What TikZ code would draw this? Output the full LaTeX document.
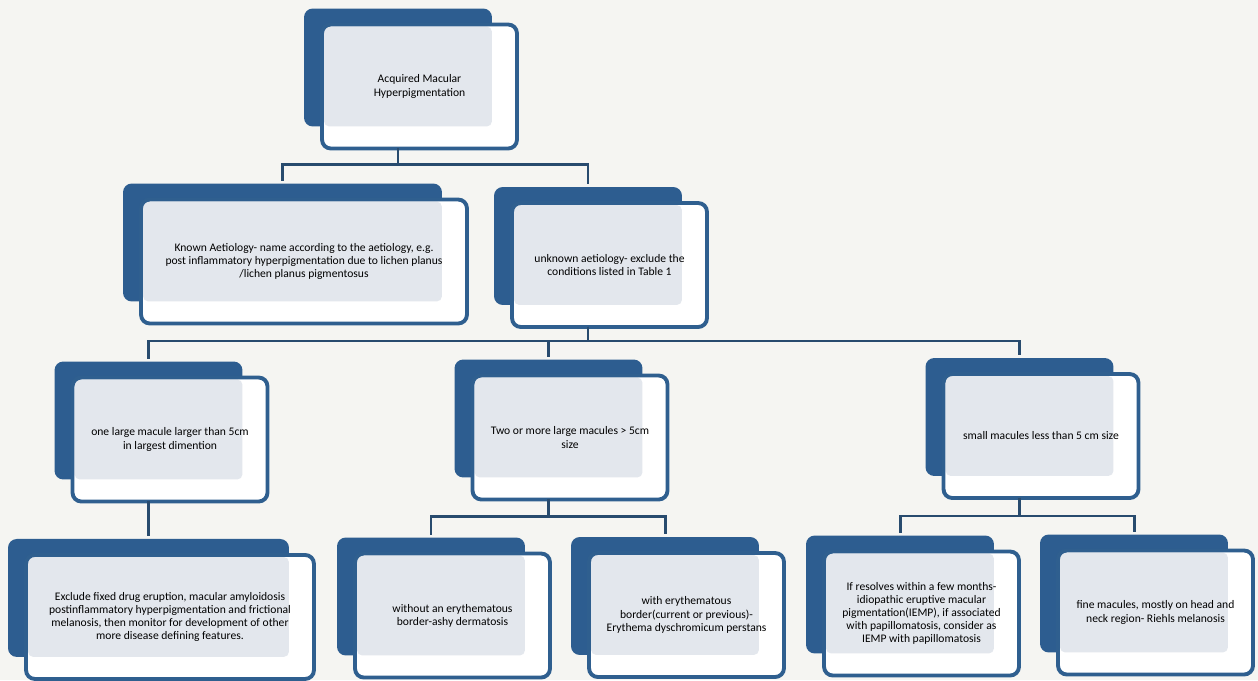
\documentclass[tikz,border=0pt]{standalone}
\usepackage{fontspec}
\setmainfont{Carlito}
\usetikzlibrary{backgrounds,positioning}
\definecolor{boxback}{HTML}{2D5D90}
\definecolor{boxline}{HTML}{2F5F8F}
\definecolor{boxinner}{HTML}{E3E7ED}
\definecolor{linkcol}{HTML}{284B6E}
\definecolor{paper}{HTML}{F5F5F2}
\newcommand{\boxfont}{\fontsize{6.6}{7.5}\selectfont}

\begin{document}
\begin{tikzpicture}[
  x=0.02cm, y=-0.02cm,
  front/.style={draw=boxline, line width=2.2pt, rounded corners=5pt, minimum width=3.9cm, minimum height=2.48cm, inner sep=2pt, outer sep=0pt, align=center, font=\boxfont},
  link/.style={draw=linkcol, line width=1.7pt}
]
\useasboundingbox (0,0) rectangle (1258,680);

% level 1
\node[front] (root) at (419.5,86.5) {Acquired Macular\\Hyperpigmentation};
% level 2
\node[front, minimum width=6.52cm] (known) at (304,261.5) {Known Aetiology- name according to the aetiology, e.g.\\post inflammatory hyperpigmentation due to lichen planus\\/lichen planus pigmentosus};
\node[front] (unknown) at (609.5,265) {unknown aetiology- exclude the\\conditions listed in Table 1};
% level 3
\node[front] (large) at (170,439.5) {one large macule larger than 5cm\\in largest dimention};
\node[front] (two) at (570,437.5) {Two or more large macules > 5cm\\size};
\node[front] (small) at (1041,436) {small macules less than 5 cm size};
% level 4
\node[front, minimum width=5.76cm, below=1.07cm of large] (exclude) {Exclude fixed drug eruption, macular amyloidosis\\postinflammatory hyperpigmentation and frictional\\melanosis, then monitor for development of other\\more disease defining features.};
\node[front] (without) at (452.5,615.5) {without an erythematous\\border-ashy dermatosis};
\node[front] (with) at (686.5,615) {with erythematous\\border(current or previous)-\\Erythema dyschromicum perstans};
\node[front] (iemp) at (921.5,613.5) {If resolves within a few months-\\idiopathic eruptive macular\\pigmentation(IEMP), if associated\\with papillomatosis, consider as\\IEMP with papillomatosis};
\node[front] (riehl) at (1155.5,612.5) {fine macules, mostly on head and\\neck region- Riehls melanosis};

% dark backs and light panels behind the boxes
\begin{scope}[on background layer]
\fill[paper] (0,0) rectangle (1258,680);
\foreach \n in {root,known,unknown,large,two,small,exclude,without,with,iemp,riehl} {
  \fill[boxback, rounded corners=5pt] ([shift={(-18,-16)}]\n.north west) rectangle ([shift={(-25,-22)}]\n.south east);
  \fill[white, rounded corners=5pt] (\n.north west) rectangle (\n.south east);
  \fill[boxinner, rounded corners=3pt] ([shift={(2,2)}]\n.north west) rectangle ([shift={(-25,-22)}]\n.south east);
  \coordinate (\n-t) at ([shift={(-21.5,-19)}]\n.north);
  \coordinate (\n-b) at ([shift={(-21.5,0)}]\n.south);
}
\end{scope}

\draw[link] (root-b) -- ++(0,16) -| (known-t);
\draw[link] (root-b) -- ++(0,16) -| (unknown-t);
\draw[link] (unknown-b) -- ++(0,14) -| (large-t);
\draw[link] (unknown-b) -- ++(0,14) -| (two-t);
\draw[link] (unknown-b) -- ++(0,14) -| (small-t);
\draw[link] (large-b) -- (exclude-t);
\draw[link] (two-b) -- ++(0,17) -| (without-t);
\draw[link] (two-b) -- ++(0,17) -| (with-t);
\draw[link] (small-b) -- ++(0,18) -| (iemp-t);
\draw[link] (small-b) -- ++(0,18) -| (riehl-t);
\end{tikzpicture}
\end{document}
